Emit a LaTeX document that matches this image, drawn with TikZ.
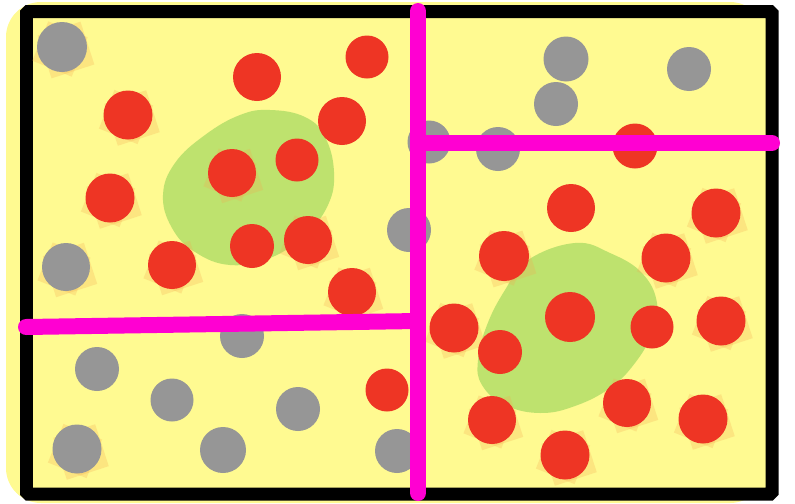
\documentclass[tikz,border=0pt]{standalone}
\usepackage{tikz}
\usetikzlibrary{positioning, calc}
\definecolor{padyellow}{RGB}{255,250,145}
\definecolor{dotgray}{RGB}{150,150,150}
\definecolor{dotred}{RGB}{238,53,36}
\definecolor{blobgreen}{RGB}{190,226,110}
\definecolor{cutpink}{RGB}{255,0,210}
\definecolor{fuzzorange}{RGB}{245,170,80}
\tikzset{
  grayball/.style={circle, fill=dotgray, inner sep=0pt},
  redball/.style={circle, fill=dotred, inner sep=0pt},
  fuzz/.style={rectangle, fill=fuzzorange, fill opacity=0.25, inner sep=0pt},
  blob/.style={fill=blobgreen},
  cut/.style={line width=0.32cm, cutpink, line cap=round},
  frame/.style={line width=0.26cm, black, fill=padyellow, rounded corners=1pt}
}

\begin{document}
\begin{tikzpicture}[x=0.02cm, y=-0.02cm]
  \useasboundingbox (0,0) rectangle (795,504);

  % yellow pad behind the frame
  \fill[padyellow, rounded corners=0.7cm] (6,2) rectangle (765,503);
  \draw[frame] (26.5,11.5) rectangle (772,494);

  % green clusters
  \fill[blob] plot[smooth cycle, tension=0.7] coordinates {(270,110) (305,117) (325,137) (334,172) (328,205) (305,235) (270,258) (230,265) (195,252) (172,228) (163,195) (175,163) (205,135) (240,115)};
  \fill[blob] plot[smooth cycle, tension=0.7] coordinates {(575,243) (610,253) (642,273) (657,303) (652,333) (635,363) (610,388) (575,406) (540,413) (505,405) (482,385) (478,360) (487,325) (505,290) (528,260)};

  % gray dots (x/y/diameter/fuzz)
  \foreach \x/\y/\d/\h [count=\i] in {62/47/50/1, 566/59/45/0, 689/69/44/0, 556/104/44/0, 429/142/43/0, 498/149/44/0, 409/230/44/0, 66/267/48/1, 242/336/44/0, 97/369/44/0, 172/400/43/0, 77/449/49/1, 223/450/46/0, 298/409/44/0, 397/451/44/0} {
    \ifnum\h=1
      \node[fuzz, minimum size=\d*0.9*0.02cm, rotate=18] (gf\i) at (\x+4,\y+3) {};
      \node[fuzz, minimum size=\d*0.85*0.02cm, rotate=-22] (gg\i) at (\x-2,\y+2) {};
    \fi
    \node[grayball, minimum size=\d*0.02cm] (gray\i) at (\x,\y) {};
  }

  % red dots (x/y/diameter/fuzz)
  \foreach \x/\y/\d/\h [count=\i] in {257/77/48/0, 367/57/43/0, 128/115/49/1, 342/121/48/0, 232/173/48/1, 297/160/43/0, 110/198/49/1, 172/265/48/1, 252/246/44/0, 308/240/48/1, 352/292/48/1, 635/146/45/0, 571/208/48/0, 716/213/49/1, 504/256/50/1, 666/258/49/1, 454/328/49/1, 570/317/50/0, 652/327/43/0, 721/321/49/1, 500/352/44/0, 387/390/43/0, 492/420/48/1, 627/403/48/1, 703/419/49/1, 565/455/49/1} {
    \ifnum\h=1
      \node[fuzz, minimum size=\d*0.9*0.02cm, rotate=18] (rf\i) at (\x+4,\y+3) {};
      \node[fuzz, minimum size=\d*0.85*0.02cm, rotate=-22] (rg\i) at (\x-2,\y+2) {};
    \fi
    \node[redball, minimum size=\d*0.02cm] (red\i) at (\x,\y) {};
  }

  % pink cut lines
  \coordinate (vtop) at (418,11);
  \coordinate (vbot) at (418,493);
  \coordinate (rcut) at (772,143);
  \coordinate (lcut) at (26,327);
  \draw[cut] (vtop) -- (vbot);
  \draw[cut] (vtop |- rcut) -- (rcut);
  \draw[cut] (lcut) -- (418,321);
\end{tikzpicture}
\end{document}
